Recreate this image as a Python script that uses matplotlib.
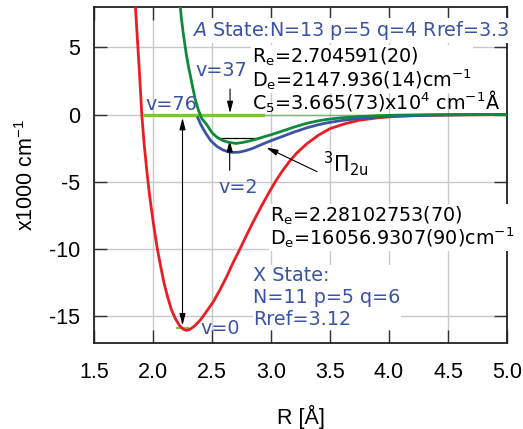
import numpy as np
import matplotlib
matplotlib.use("Agg")
import matplotlib.pyplot as plt

plt.rcParams["font.family"] = ["Liberation Sans", "DejaVu Sans"]
plt.rcParams["mathtext.default"] = "regular"
plt.rcParams["axes.unicode_minus"] = False

# X state (red), R in Angstrom, E in 1000 cm^-1
r_x = [1.848, 1.865, 1.882, 1.895, 1.905, 1.925, 1.950, 1.975, 2.005, 2.035,
       2.065, 2.095, 2.125, 2.155, 2.190, 2.225, 2.255, 2.281, 2.310, 2.350,
       2.400, 2.450, 2.510, 2.570, 2.625, 2.680, 2.740, 2.800, 2.860, 2.920,
       2.980, 3.040, 3.100, 3.160, 3.220, 3.300, 3.400, 3.500, 3.620, 3.750,
       3.900, 4.050, 4.250, 4.500, 4.750, 5.000]
e_x = [8.5, 6.0, 3.6, 1.6, 0.0, -2.2, -4.4, -6.3, -8.2, -9.9,
       -11.3, -12.6, -13.6, -14.5, -15.2, -15.7, -15.97, -16.06, -16.0, -15.75,
       -15.3, -14.7, -13.95, -13.0, -12.05, -11.0, -9.95, -8.85, -7.8, -6.8,
       -5.85, -4.95, -4.15, -3.45, -2.85, -2.2, -1.55, -1.05, -0.7, -0.42,
       -0.25, -0.14, -0.07, -0.03, -0.01, 0.0]

# 3Pi_2u (blue)
r_pi = [2.38, 2.40, 2.43, 2.455, 2.49, 2.54, 2.59, 2.64, 2.68, 2.73,
        2.79, 2.85, 2.91, 2.97, 3.02, 3.10, 3.19, 3.30, 3.40, 3.47,
        3.60, 3.75, 3.90, 4.05, 4.30, 4.60, 5.00]
e_pi = [-0.25, -0.65, -1.15, -1.5, -1.95, -2.36, -2.63, -2.78, -2.82, -2.8,
        -2.68, -2.5, -2.27, -2.05, -1.88, -1.62, -1.32, -1.0, -0.76, -0.63,
        -0.44, -0.29, -0.19, -0.12, -0.06, -0.02, 0.0]

# A state (green)
r_a = [2.225, 2.24, 2.257, 2.28, 2.30, 2.33, 2.356, 2.384, 2.413, 2.455,
       2.50, 2.54, 2.59, 2.64, 2.705, 2.76, 2.82, 2.88, 2.94, 3.02,
       3.10, 3.19, 3.30, 3.40, 3.47, 3.60, 3.75, 3.90, 4.05, 4.30,
       4.60, 5.00]
e_a = [8.6, 7.2, 6.0, 4.6, 3.6, 2.3, 1.2, 0.35, -0.3, -0.75,
       -1.35, -1.68, -1.93, -2.07, -2.148, -2.08, -1.96, -1.82, -1.66, -1.45,
       -1.22, -0.95, -0.66, -0.47, -0.37, -0.24, -0.15, -0.09, -0.05, -0.02,
       -0.01, 0.0]

# vibrational levels
lvl76_r = [1.93, 2.93]
lvl76_e = 0.0
asym_r = [2.93, 5.0]
lvl2_r = [2.55, 2.90]
lvl2_e = -1.75
lvl0_r = [2.20, 2.30]
lvl0_e = -15.9

red = "#ec1c24"
blue = "#3a53a4"
green = "#10893b"
lgreen = "#7cc242"

fig = plt.figure(figsize=(5.23, 4.29), dpi=100)
ax = fig.add_axes([94 / 523, 1 - 343 / 429, 413 / 523, 336 / 429])

ax.plot(lvl76_r, [lvl76_e] * 2, color=lgreen, lw=2.4, zorder=2)
ax.plot(asym_r, [lvl76_e] * 2, color=lgreen, lw=1.0, zorder=2)
ax.plot(lvl0_r, [lvl0_e] * 2, color=lgreen, lw=1.5, zorder=2)
ax.plot(lvl2_r, [lvl2_e] * 2, color="black", lw=0.9, zorder=2)

ax.plot(r_x, e_x, color=red, lw=2.0, zorder=3)
ax.plot(r_pi, e_pi, color=blue, lw=2.0, zorder=3)
ax.plot(r_a, e_a, color=green, lw=2.0, zorder=4)

ah = dict(arrowstyle="-|>,head_length=0.7,head_width=0.18", color="black",
          lw=0.8, shrinkA=0, shrinkB=0)
ax.annotate("", xy=(2.25, -0.25), xytext=(2.25, -15.7),
            arrowprops=dict(ah, arrowstyle="<|-|>,head_length=0.7,head_width=0.18"))
ax.annotate("", xy=(2.653, 0.1), xytext=(2.653, 1.9), arrowprops=ah)
ax.annotate("", xy=(2.65, -1.9), xytext=(2.65, -4.15), arrowprops=ah)
ax.annotate("", xy=(2.96, -2.45), xytext=(3.39, -4.25), arrowprops=ah)

ax.set_xlim(1.5, 5.0)
ax.set_ylim(-17, 8)
ax.set_xticks(np.arange(1.5, 5.01, 0.5))
ax.set_xticklabels([f"{v:.1f}" for v in np.arange(1.5, 5.01, 0.5)])
ax.set_yticks([5, 0, -5, -10, -15])
ax.grid(True, color="#c8c8c8", lw=1.0)
ax.set_axisbelow(True)
ax.tick_params(direction="in", top=True, right=True, length=9.5, width=1.0,
               color="#333333", labelsize=15.5, pad=10)
ax.tick_params(axis="x", pad=14)
for s in ax.spines.values():
    s.set_linewidth(1.3)
    s.set_color("#222222")

ax.set_xlabel("R [Å]", fontsize=15.5)
ax.xaxis.set_label_coords(0.5, -0.185)
ax.set_ylabel("x1000 cm$^{-1}$", fontsize=15.5)
ax.yaxis.set_label_coords(-0.135, 0.5)

dj = "DejaVu Sans"
fs = 13.8
box = dict(fc="white", ec="none", pad=0.5)


def label(x, y, s, color="black", boxed=False, size=fs, va="baseline", ls=1.2):
    ax.text(x, y, s, color=color, fontsize=size, family=dj, zorder=6,
            va=va, linespacing=ls, clip_on=False,
            bbox=box if boxed else None)


label(2.33, 5.86, "$\\it{A}$ State:N=13 p=5 q=4 Rref=3.3", blue, boxed=True)
label(2.84, 5.1, "R$_e$=2.704591(20)\nD$_e$=2147.936(14)cm$^{-1}$",
      boxed=True, va="top", ls=0.95)
label(2.84, 0.33, "C$_5$=3.665(73)x10$^4$ cm$^{-1}$Å")
label(2.356, 2.87, "v=37", blue)
label(1.932, 0.34, "v=76", blue)
label(2.553, -5.81, "v=2", blue)
label(2.398, -16.33, "v=0", blue)
label(3.44, -4.22, "$^3\\Pi_{2u}$", size=15)
label(2.99, -6.68, "R$_e$=2.28102753(70)\nD$_e$=16056.9307(90)cm$^{-1}$",
      boxed=True, va="top", ls=0.95)
label(2.85, -11.27, "X State:\nN=11 p=5 q=6\nRref=3.12", blue,
      boxed=True, va="top", ls=1.2)

fig.savefig("out.png", dpi=100)
